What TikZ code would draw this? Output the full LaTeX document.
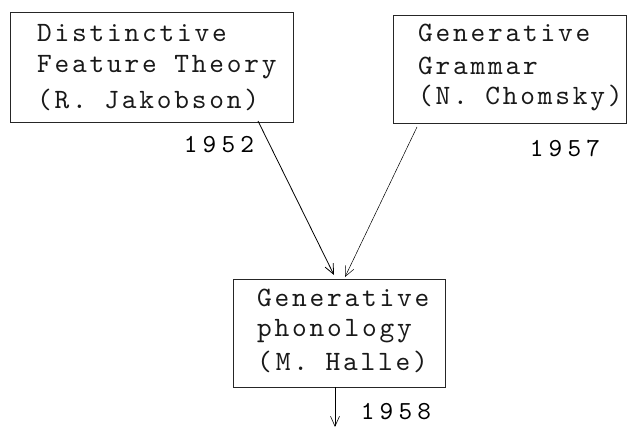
\documentclass[tikz,border=0pt]{standalone}
\usepackage{fontspec}
\setmonofont{lmmono10-regular}[Extension=.otf, LetterSpace=10]
\newfontfamily\yrfont{lmmono10-regular}[Extension=.otf, LetterSpace=20]
\usetikzlibrary{arrows.meta}
\tikzset{
  box/.style={draw=black!85, line width=0.7pt, rectangle, inner sep=0pt, anchor=north west},
  txt/.style={font=\ttfamily\fontsize{28}{28}\selectfont, anchor=west, inner sep=0pt, text=black!90},
  yr/.style={font=\yrfont\fontsize{26}{26}\selectfont, inner sep=0pt, text=black},
  link/.style={line width=0.8pt, -{Straight Barb[length=10pt,width=9pt]}},
  faint/.style={line width=0.5pt, -{Straight Barb[length=10pt,width=9pt]}}
}
\begin{document}
\begin{tikzpicture}[x=1pt,y=-1pt]
\useasboundingbox (0,0) rectangle (628,430);
% boxes
\node[box, minimum width=283pt, minimum height=110pt] (dft) at (10,12) {};
\node[box, minimum width=233pt, minimum height=108pt] (gg) at (393,15) {};
\node[box, minimum width=212pt, minimum height=108pt] (gp) at (233,279) {};
% texts box 1
\node[txt] (t1a) at (37,33) {Distinctive};
\node[txt] (t1b) at (37,67) {Feature Theory};
\node[txt] (t1c) at (37,100) {(R. Jakobson)};
% texts box 2
\node[txt] (t2a) at (418,33) {Generative};
\node[txt] (t2b) at (418,66) {Grammar};
\node[txt] (t2c) at (418,98) {(N. Chomsky)};
% texts box 3
\node[txt] (t3a) at (257,298) {Generative};
\node[txt] (t3b) at (257,331) {phonology};
\node[txt] (t3c) at (257,362) {(\hspace{4pt}M. Halle)};
% years
\node[yr] (y1) at (219,145) {1952};
\node[yr] (y2) at (565,148) {1957};
\node[yr] (y3) at (396,412) {1958};
% connectors
\coordinate (s1) at (258,121);
\coordinate (e1) at (334,275);
\coordinate (s2) at (417,127);
\coordinate (e2) at (345,277);
\coordinate (s3) at (335,387);
\coordinate (e3) at (335,427);
\draw[link] (s1) -- (e1);
\draw[faint] (s2) -- (e2);
\draw[link, line width=0.6pt] (s3) -- (e3);
\end{tikzpicture}
\end{document}
